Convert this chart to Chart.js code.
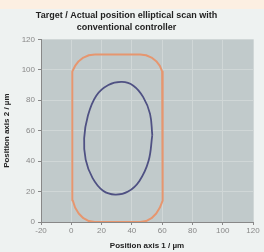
<!DOCTYPE html>
<html>
<head>
<meta charset="utf-8">
<script src="https://cdn.jsdelivr.net/npm/chart.js@4/dist/chart.umd.min.js"></script>
<style>
  html, body { margin: 0; padding: 0; background: #eef2f1; }
  #wrap { width: 264px; height: 252px; }
</style>
</head>
<body>
<div id="wrap"><canvas id="scanChart" width="264" height="252"></canvas></div>
<script>
// Ziel-Bahn (orange, abgerundetes Rechteck)
const targetX = [15.5, 45.5, 49.4, 53, 56.1, 58.5, 60, 60.5,
                 60.5, 60, 58.5, 56.1, 53, 49.4, 45.5,
                 15.5, 11.6, 8, 4.9, 2.5, 1, 0.5,
                 0.5, 1, 2.5, 4.9, 8, 11.6, 15.5];
const targetY = [110, 110, 109.5, 108, 105.6, 102.5, 98.9, 95,
                 19, 14.1, 9.5, 5.6, 2.5, 0.6, 0,
                 0, 0.6, 2.5, 5.6, 9.5, 14.1, 19,
                 95, 98.9, 102.5, 105.6, 108, 109.5, 110];

// Ist-Bahn (blau, Ellipse)
const actualX = [53.5, 52, 47.5, 41, 33.5, 24.5, 16.5, 11, 8.5, 9.5, 14, 21, 29, 37.5, 45, 51, 53.5];
const actualY = [57, 71, 82, 89.5, 92, 90, 83, 70, 55, 41, 29, 20.5, 18, 20, 27, 40, 57];

const xTicks = [-20, 0, 20, 40, 60, 80, 100, 120];
const yTicks = [0, 20, 40, 60, 80, 100, 120];

const titleLines = ['Target / Actual position elliptical scan with', 'conventional controller'];

function toPoints(xs, ys) {
    return xs.map((x, i) => ({ x: x, y: ys[i] }));
}

// Hintergrund zeichnen (Rand, oberer Streifen, Plotfläche)
const backgroundPlugin = {
    id: 'bg',
    beforeDraw(chart) {
        const c = chart.ctx;
        const a = chart.chartArea;
        c.save();
        c.fillStyle = '#eef2f1';
        c.fillRect(0, 0, chart.width, chart.height);
        c.fillStyle = '#fcefe2';
        c.fillRect(0, 0, chart.width, 9);
        c.fillStyle = '#c1cacb';
        c.fillRect(a.left, a.top, a.right - a.left, a.bottom - a.top);
        c.restore();
    }
};

const ctx = document.getElementById('scanChart').getContext('2d');
new Chart(ctx, {
    type: 'scatter',
    data: {
        datasets: [
            {
                label: 'Target',
                data: toPoints(targetX, targetY),
                showLine: true,
                borderColor: '#e6966f',
                borderWidth: 2,
                pointRadius: 0,
                tension: 0,
                borderJoinStyle: 'round',
                fill: false
            },
            {
                label: 'Actual',
                data: toPoints(actualX, actualY),
                showLine: true,
                borderColor: '#4f5183',
                borderWidth: 1.8,
                pointRadius: 0,
                tension: 0.4,
                fill: false
            }
        ]
    },
    options: {
        responsive: false,
        animation: false,
        layout: { padding: { top: 0, right: 11, bottom: 0, left: 0 } },
        plugins: {
            legend: { display: false },
            tooltip: { enabled: false },
            title: {
                display: true,
                text: titleLines,
                color: '#222',
                font: { family: 'Liberation Sans', size: 9, weight: 'bold', lineHeight: 1.35 },
                padding: { top: 9, bottom: 6 }
            }
        },
        scales: {
            x: {
                type: 'linear',
                min: -20,
                max: 120,
                afterBuildTicks: (axis) => { axis.ticks = xTicks.map(v => ({ value: v })); },
                afterFit: (axis) => { axis.height = 30; },
                ticks: { color: '#888', font: { family: 'Liberation Sans', size: 8 }, padding: 1, maxRotation: 0 },
                grid: { color: '#d0d7d7', lineWidth: 1, tickLength: 3, tickColor: '#888' },
                border: { color: '#888', width: 1 },
                title: {
                    display: true,
                    text: 'Position axis 1 / µm',
                    color: '#222',
                    font: { family: 'Liberation Sans', size: 8, weight: 'bold' },
                    padding: { top: 0, bottom: 1 }
                }
            },
            y: {
                type: 'linear',
                min: 0,
                max: 120,
                afterBuildTicks: (axis) => { axis.ticks = yTicks.map(v => ({ value: v })); },
                afterFit: (axis) => { axis.width = 41; },
                ticks: { color: '#888', font: { family: 'Liberation Sans', size: 8 }, padding: 3 },
                grid: { color: '#d0d7d7', lineWidth: 1, tickLength: 3, tickColor: '#888' },
                border: { color: '#888', width: 1 },
                title: {
                    display: true,
                    text: 'Position axis 2 / µm',
                    color: '#222',
                    font: { family: 'Liberation Sans', size: 8, weight: 'bold' },
                    padding: { top: 2, bottom: 0 }
                }
            }
        }
    },
    plugins: [backgroundPlugin]
});
</script>
</body>
</html>
